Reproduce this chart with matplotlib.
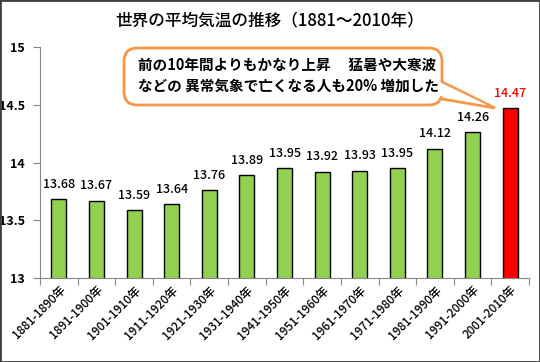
import matplotlib
matplotlib.use("Agg")
import matplotlib.pyplot as plt
from matplotlib.patches import FancyBboxPatch, Polygon, Rectangle

plt.rcParams['font.family'] = ['Noto Sans CJK JP', 'DejaVu Sans']

periods = ["1881-1890年", "1891-1900年", "1901-1910年", "1911-1920年", "1921-1930年",
           "1931-1940年", "1941-1950年", "1951-1960年", "1961-1970年", "1971-1980年",
           "1981-1990年", "1991-2000年", "2001-2010年"]
temps = [13.68, 13.67, 13.59, 13.64, 13.76, 13.89, 13.95, 13.92, 13.93, 13.95, 14.12, 14.26, 14.47]
yticks = [13, 13.5, 14, 14.5, 15]

W, H = 540, 362
fig = plt.figure(figsize=(5.4, 3.62), dpi=100)
ax = fig.add_axes([40 / W, 1 - 278 / H, 489 / W, 231 / H])

colors = ['#92D050'] * (len(temps) - 1) + ['#FF0000']
x = range(len(temps))
ax.bar(x, temps, width=0.4, color=colors, edgecolor='black', linewidth=1.0, bottom=0)
ax.set_ylim(13, 15)
ax.set_xlim(-0.5, len(temps) - 0.5)
ax.set_yticks(yticks)
ax.set_yticklabels(['13', '13.5', '14', '14.5', '15'], fontsize=9, fontweight='bold')
ax.set_xticks([i - 0.5 for i in range(len(temps) + 1)], minor=False)
ax.set_xticklabels([])
ax.set_xticks(list(x), minor=True)
ax.set_xticklabels(periods, minor=True, rotation=45, ha='right', va='top',
                   rotation_mode='anchor', fontsize=8.5, fontweight='medium')
ax.tick_params(axis='x', which='minor', length=0, pad=4)
ax.tick_params(axis='x', which='major', length=5, color='#868686', direction='out')
ax.tick_params(axis='y', length=5, color='#868686', direction='out', pad=6)
for s in ['top', 'right']:
    ax.spines[s].set_visible(False)
ax.spines['left'].set_color('#868686')
ax.spines['bottom'].set_color('#868686')

for i, v in enumerate(temps):
    c = '#FF0000' if i == len(temps) - 1 else 'black'
    ax.annotate(f"{v:.2f}", (i, v), xytext=(0, 6), textcoords='offset points',
                ha='center', va='bottom', fontsize=9, color=c, fontweight='medium')

fig.text(0.5, 1 - 20 / H, "世界の平均気温の推移（1881～2010年）", ha='center', va='center',
         fontsize=12, fontweight='medium')

# callout
def px(xp, yp):
    return (xp / W, 1 - yp / H)

orange = '#F79646'
wedge = Polygon([px(436, 79), px(495, 108), px(436, 98)], closed=True,
                facecolor='white', edgecolor=orange, linewidth=2, transform=fig.transFigure)
fig.patches.append(wedge)
bx0, by0 = px(124, 105)
bx1, by1 = px(442, 48)
box = FancyBboxPatch((bx0, by0), bx1 - bx0, by1 - by0,
                     boxstyle="round,pad=0,rounding_size=0.025",
                     facecolor='white', edgecolor=orange, linewidth=2,
                     transform=fig.transFigure, mutation_aspect=W / H)
fig.patches.append(box)
cover = Polygon([px(438, 81.5), px(488, 105.5), px(438, 95.5)], closed=True,
                facecolor='white', edgecolor='none', transform=fig.transFigure)
fig.patches.append(cover)

fig.text(138 / W, 1 - 65 / H, "前の10年間よりもかなり上昇　 猛暑や大寒波", ha='left', va='center',
         fontsize=10.5, fontweight='bold')
fig.text(138 / W, 1 - 86 / H, "などの 異常気象で亡くなる人も20% 増加した", ha='left', va='center',
         fontsize=10.5, fontweight='bold')

fig.patches.append(Rectangle((0, 0), 1, 1, transform=fig.transFigure, fill=False,
                             edgecolor='#404040', linewidth=2))

fig.savefig("out.png", dpi=100)
